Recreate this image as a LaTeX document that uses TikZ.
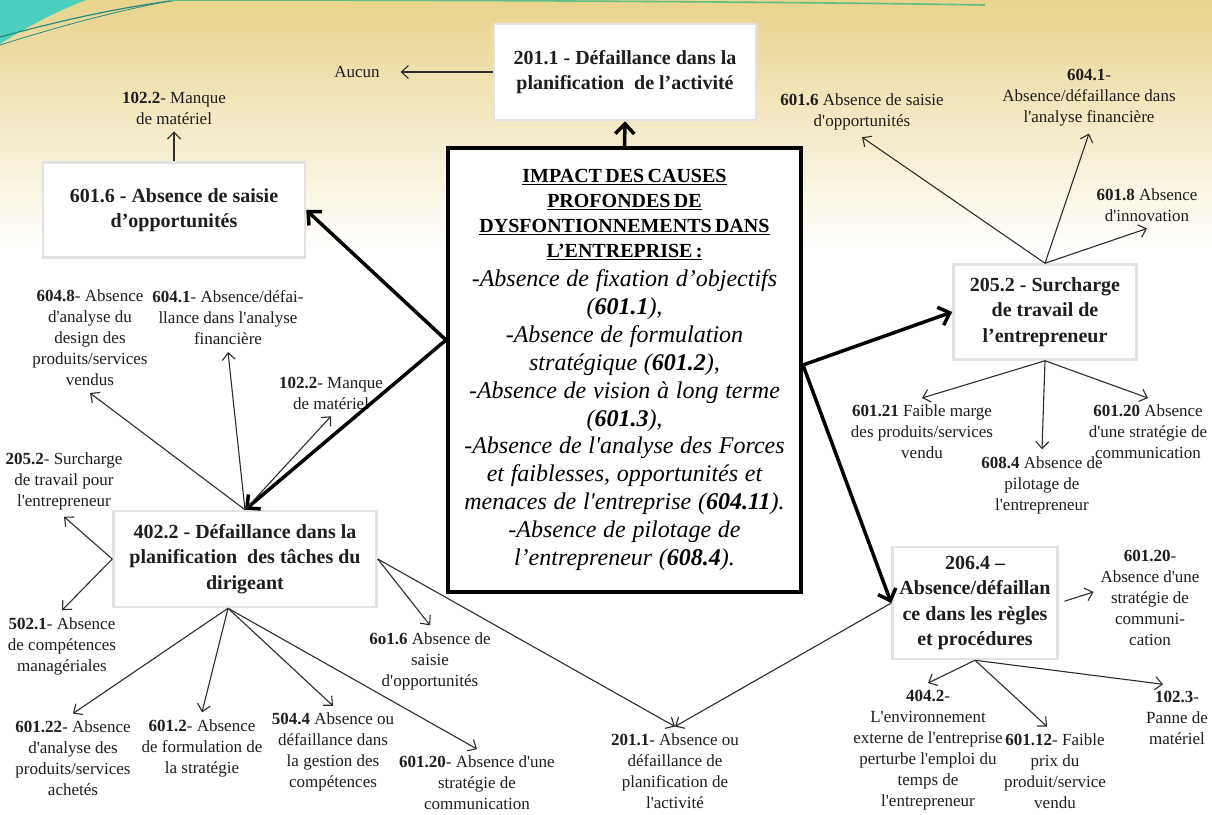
\documentclass[tikz,border=0pt]{standalone}
\usepackage{fontspec}
\setmainfont{Liberation Serif}
\usetikzlibrary{arrows.meta}
\definecolor{boxgray}{RGB}{226,226,226}
\definecolor{linec}{RGB}{45,45,45}
\definecolor{inkc}{RGB}{30,30,30}
\definecolor{goldbg}{RGB}{232,212,140}
\definecolor{tealA}{RGB}{78,206,190}
\definecolor{tealB}{RGB}{38,140,128}
\definecolor{greenL}{RGB}{96,190,130}
\newcommand\ap{\textquotesingle}
\begin{document}
\begin{tikzpicture}[x=1pt,y=-1pt,
  boxnode/.style={draw=boxgray, line width=2.5pt, fill=white, align=center,
    font=\fontsize{20}{25.5}\selectfont\bfseries, inner sep=0pt, text=inkc},
  lab/.style={align=center, font=\fontsize{17}{21}\selectfont, inner sep=2pt,
    outer sep=5pt, text=inkc},
  arr/.style={draw=linec, line width=1.1pt, -{Straight Barb[length=7pt,width=13pt]}},
  bigarr/.style={draw=black, line width=3.5pt, -{Straight Barb[length=10pt,width=19pt]}},
]
\useasboundingbox (0,0) rectangle (1212,814);
% background
\fill[white] (0,0) rectangle (1212,814);
\shade[top color=goldbg, bottom color=white] (0,0) rectangle (1212,250);
% decorative swoosh in the corner
\fill[tealA] (0,0) -- (86,0) .. controls (55,12) and (25,28) .. (0,44) -- cycle;
\draw[tealB, line width=1.2pt] (0,37) .. controls (55,22) and (115,8) .. (178,0);
\draw[tealB, line width=0.8pt] (0,45) .. controls (60,26) and (120,10) .. (175,0);
\draw[greenL, line width=1.6pt] (170,0) .. controls (500,0) and (800,2) .. (985,5);

% main boxes
\node[boxnode, minimum width=262pt, minimum height=96pt] (top201) at (625,72)
  {201.1 - Défaillance dans la\\planification \ de l’activité};
\node[lab] (aucun) at (357,72) {Aucun};
\node[boxnode, minimum width=262pt, minimum height=95pt] (opp) at (174,210)
  {601.6 - Absence de saisie\\d’opportunités};
\node[boxnode, minimum width=263pt, minimum height=96pt] (dir) at (245,559)
  {402.2 - Défaillance dans la\\planification \ des tâches du\\dirigeant};
\node[boxnode, minimum width=183pt, minimum height=95pt] (sur) at (1045,312)
  {205.2 - Surcharge\\de travail de\\l’entrepreneur};
\node[boxnode, minimum width=165pt, minimum height=112pt] (regl) at (975,603)
  {206.4 –\\Absence/défaillan\\ce dans les règles\\et procédures};

\node[draw=black, line width=4pt, fill=white, minimum width=353pt, minimum height=444pt,
  text width=349pt, align=center, inner sep=0pt] (central) at (624.5,370)
  {{\fontsize{20}{25}\selectfont\bfseries
    \underline{IMPACT DES CAUSES}\\
    \underline{PROFONDES DE}\\
    \underline{DYSFONTIONNEMENTS DANS}\\
    \underline{L’ENTREPRISE :}\par}
   \vspace{1pt}
   {\fontsize{24}{27.9}\selectfont\itshape\spaceskip=0.28em\relax
    -Absence de fixation d’objectifs\\
    (\textbf{601.1}),\\
    -Absence de formulation\\
    stratégique (\textbf{601.2}),\\
    -Absence de vision à long terme\\
    (\textbf{601.3}),\\
    -Absence de l\ap analyse des Forces\\
    et faiblesses, opportunités et\\
    menaces de l\ap entreprise (\textbf{604.11}).\\
    -Absence de pilotage de\\
    l’entrepreneur (\textbf{608.4}).\par}};

% labels
\node[lab] (lab1022a) at (174,108) {\textbf{102.2}- Manque\\de matériel};
\node[lab] (lab6048) at (90,338) {\textbf{604.8}- Absence\\d\ap analyse du\\design des\\produits/services\\vendus};
\node[lab] (lab6041a) at (228,318) {\textbf{604.1}- Absence/défai-\\llance dans l\ap analyse\\financière};
\node[lab] (lab1022b) at (331,393) {\textbf{102.2}- Manque\\de matériel};
\node[lab] (lab2052) at (64,481) {\textbf{205.2}- Surcharge\\de travail pour\\l\ap entrepreneur};
\node[lab] (lab5021) at (62,646) {\textbf{502.1}- Absence\\de compétences\\managériales};
\node[lab] (lab60122) at (73,758) {\textbf{601.22}- Absence\\d\ap analyse des\\produits/services\\achetés};
\node[lab] (lab6012) at (202,748) {\textbf{601.2}- Absence\\de formulation de\\la stratégie};
\node[lab] (lab5044) at (333,752) {\textbf{504.4} Absence ou\\défaillance dans\\la gestion des\\compétences};
\node[lab] (lab60120a) at (477,783) {\textbf{601.20}- Absence d\ap une\\stratégie de\\communication};
\node[lab] (lab6016b) at (430,661) {\textbf{6o1.6} Absence de\\saisie\\d\ap opportunités};
\node[lab] (lab2011b) at (675,771) {\textbf{201.1}- Absence ou\\défaillance de\\planification de\\l\ap activité};
\node[lab] (lab6016c) at (862,112) {\textbf{601.6} Absence de saisie\\d\ap opportunités};
\node[lab] (lab6041b) at (1089,98) {\textbf{604.1}-\\Absence/défaillance dans\\l\ap analyse financière};
\node[lab] (lab6018) at (1147,205) {\textbf{601.8} Absence\\d\ap innovation};
\node[lab] (lab60121) at (922,432) {\textbf{601.21} Faible marge\\des produits/services\\vendu};
\node[lab] (lab6084) at (1042,485) {\textbf{608.4} Absence de\\pilotage de\\l\ap entrepreneur};
\node[lab] (lab60120b) at (1148,432) {\textbf{601.20} Absence\\d\ap une stratégie de\\communication};
\node[lab] (lab60120c) at (1150,598) {\textbf{601.20}-\\Absence d\ap une\\stratégie de\\communi-\\cation};
\node[lab] (lab4042) at (928,750) {\textbf{404.2}-\\L\ap environnement\\externe de l\ap entreprise\\perturbe l\ap emploi du\\temps de\\l\ap entrepreneur};
\node[lab] (lab60112) at (1055,771) {\textbf{601.12}- Faible\\prix du\\produit/service\\vendu};
\node[lab] (lab1023) at (1177,718) {\textbf{102.3}-\\Panne de\\matériel};

% thick connectors from the central box
\draw[bigarr] (central.north) -- (top201.south);
\draw[bigarr] ([yshift=30pt]central.west) -- (opp.east);
\draw[bigarr] ([yshift=30pt]central.west) -- (dir.north);
\draw[bigarr] ([yshift=5pt]central.east) -- (sur.west);
\draw[bigarr] ([yshift=5pt]central.east) -- (regl.west);

% thin connectors
\draw[arr, shorten >=14pt] (top201.west) -- (aucun.east);
\draw[arr] (opp.north) -- (lab1022a.south);

\draw[arr] (dir.north) -- (lab6048.south);
\draw[arr] (dir.north) -- (lab6041a.south);
\draw[arr] (dir.north) -- (lab1022b.south);
\draw[arr] (dir.west) -- (lab2052.south);
\draw[arr] (dir.west) -- (lab5021.north);
\draw[arr] ([xshift=-17pt]dir.south) -- (lab60122.north);
\draw[arr] ([xshift=-17pt]dir.south) -- (lab6012.north);
\draw[arr] ([xshift=-17pt]dir.south) -- (lab5044.north);
\draw[arr] ([xshift=-17pt]dir.south) -- (lab60120a.north);
\draw[arr] (dir.east) -- (lab6016b.north);
\draw[arr] (dir.east) -- (lab2011b.north);
\draw[arr] (regl.west) -- (lab2011b.north);

\draw[arr] (sur.north) -- (lab6016c.south);
\draw[arr] (sur.north) -- (lab6041b.south);
\draw[arr] (sur.north) -- (lab6018.south);
\draw[arr] (sur.south) -- (lab60121.north);
\draw[arr] (sur.south) -- (lab6084.north);
\draw[arr] (sur.south) -- (lab60120b.north);

\draw[arr, shorten <=6pt] (regl.east) -- ([yshift=6pt]lab60120c.west);
\draw[arr] (regl.south) -- (lab4042.north);
\draw[arr] (regl.south) -- ([xshift=-8pt]lab60112.north);
\draw[arr] (regl.south) -- ([xshift=-14pt]lab1023.north);
\end{tikzpicture}
\end{document}
